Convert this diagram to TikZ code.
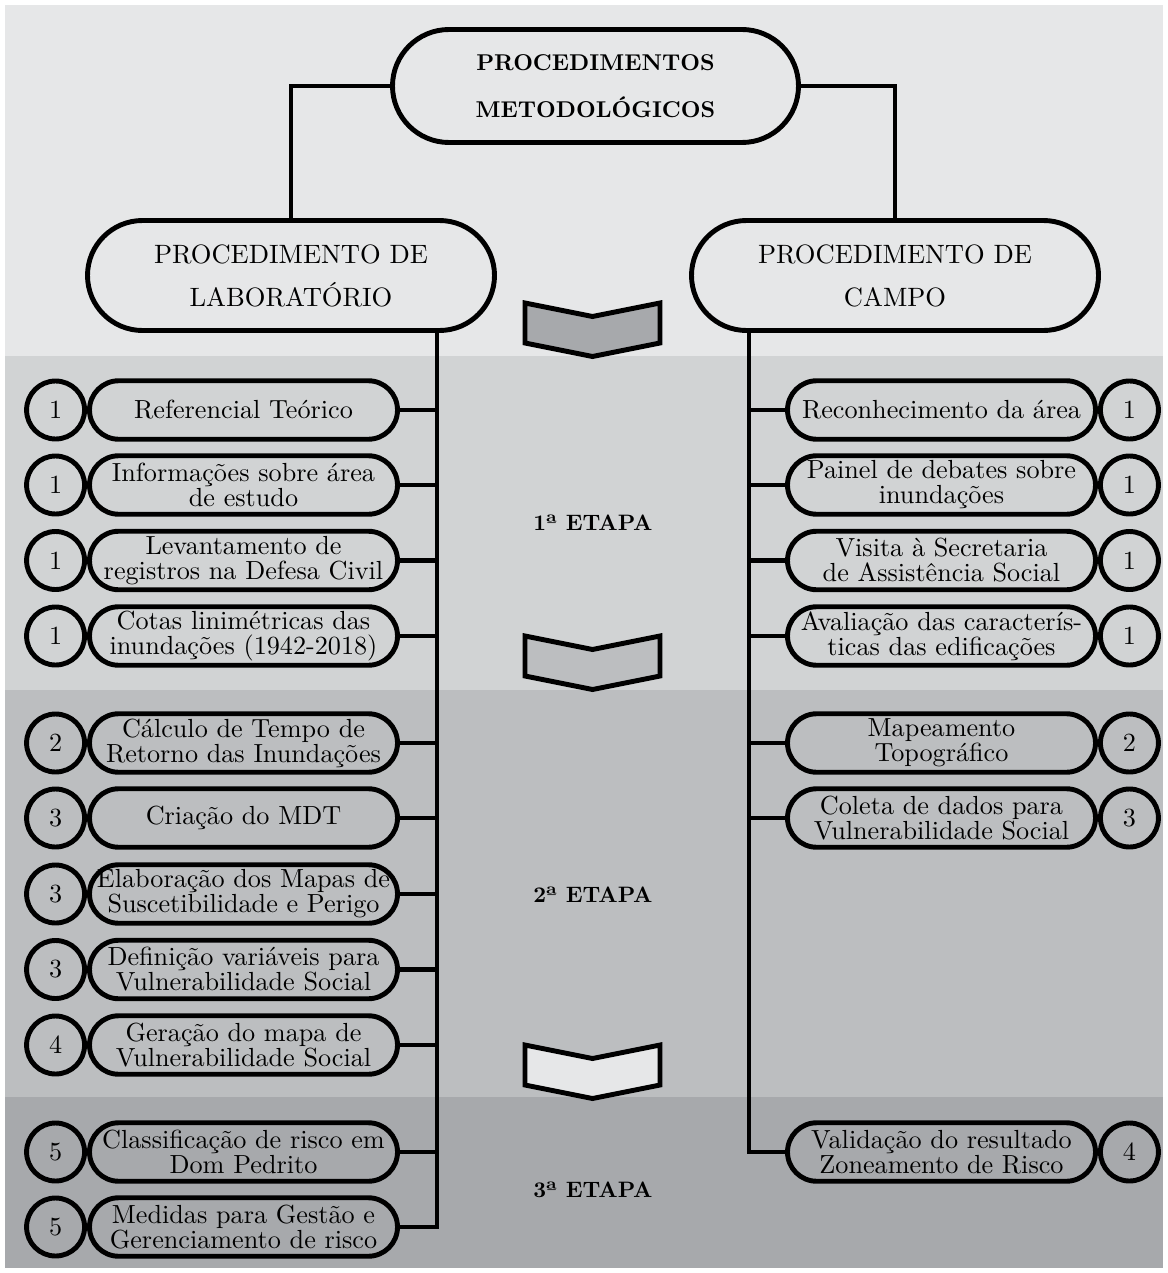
\documentclass[tikz,border=0pt]{standalone}
\usepackage{fontspec}
\setmainfont{lmroman10}[Extension=.otf, UprightFont=*-regular, BoldFont=*-bold]
\usepackage{tikz}
\usetikzlibrary{positioning}

\definecolor{etapaA}{HTML}{E6E7E8}
\definecolor{etapaB}{HTML}{D1D3D4}
\definecolor{etapaC}{HTML}{BCBEC0}
\definecolor{etapaD}{HTML}{A7A9AC}

\begin{document}
\begin{tikzpicture}[
    line width=2.8pt,
    titlebox/.style={draw, rectangle, rounded corners=1.13cm, minimum height=2.26cm, text width=8.12cm, inner xsep=0pt, align=center, font=\fontsize{13}{26.7}\selectfont\bfseries},
    procbox/.style={draw, rectangle, rounded corners=1.1cm, minimum height=2.2cm, text width=8.14cm, inner xsep=0pt, align=center, font=\fontsize{15.1}{24.5}\selectfont},
    stepbox/.style={draw, rectangle, rounded corners=0.585cm, minimum height=1.17cm, text width=6.16cm, inner xsep=0pt, inner ysep=0pt, align=center, font=\fontsize{14.9}{14.2}\selectfont},
    numcirc/.style={draw, circle, minimum size=1.16cm, inner sep=0pt, font=\fontsize{14.9}{14.2}\selectfont},
    etapa/.style={font=\fontsize{12.7}{15}\selectfont\bfseries},
    chevron/.style={draw, line width=2.8pt, line join=miter}
]
    \useasboundingbox (0,0) rectangle (23.36,-25.46);

    % Bands
    \fill[etapaA] (0.1,-0.1) rectangle (23.26,-7.12);
    \fill[etapaB] (0.1,-7.12) rectangle (23.26,-13.8);
    \fill[etapaC] (0.1,-13.8) rectangle (23.26,-21.94);
    \fill[etapaD] (0.1,-21.94) rectangle (23.26,-25.36);

    % Chevrons
    \draw[chevron, fill=etapaD, shift={(11.85,-6.06)}] (-1.35,0) -- (0,-0.27) -- (1.35,0) -- (1.35,-0.8) -- (0,-1.07) -- (-1.35,-0.8) -- cycle;
    \draw[chevron, fill=etapaC, shift={(11.85,-12.72)}] (-1.35,0) -- (0,-0.27) -- (1.35,0) -- (1.35,-0.8) -- (0,-1.07) -- (-1.35,-0.8) -- cycle;
    \draw[chevron, fill=etapaA, shift={(11.85,-20.9)}] (-1.35,0) -- (0,-0.27) -- (1.35,0) -- (1.35,-0.8) -- (0,-1.07) -- (-1.35,-0.8) -- cycle;

    % Heads
    \node[titlebox] (title) at (11.91,-1.72) {PROCEDIMENTOS\\METODOLÓGICOS};
    \node[procbox] (lab) at (5.82,-5.51) {PROCEDIMENTO DE\\LABORATÓRIO};
    \node[procbox] (campo) at (17.9,-5.51) {PROCEDIMENTO DE\\CAMPO};

    % Stages
    \node[etapa] (et1) at (11.86,-10.46) {1ª ETAPA};
    \node[etapa] (et2) at (11.86,-17.9) {2ª ETAPA};
    \node[etapa] (et3) at (11.86,-23.8) {3ª ETAPA};

    % Laboratory steps
    \node[stepbox] (ref) at (4.87,-8.2) {Referencial Teórico};
    \node[stepbox] (info) at (4.87,-9.7) {Informações sobre área\\de estudo};
    \node[stepbox] (defesa) at (4.87,-11.21) {Levantamento de\\registros na Defesa Civil};
    \node[stepbox] (cotas) at (4.87,-12.72) {Cotas linimétricas das\\inundações (1942-2018)};
    \node[stepbox] (tempo) at (4.87,-14.86) {Cálculo de Tempo de\\Retorno das Inundações};
    \node[stepbox] (mdt) at (4.87,-16.36) {Criação do MDT};
    \node[stepbox] (mapas) at (4.87,-17.88) {Elaboração dos Mapas de\\Suscetibilidade e Perigo};
    \node[stepbox] (varia) at (4.87,-19.39) {Definição variáveis para\\Vulnerabilidade Social};
    \node[stepbox] (geracao) at (4.87,-20.9) {Geração do mapa de\\Vulnerabilidade Social};
    \node[stepbox] (classif) at (4.87,-23.04) {Classificação de risco em\\Dom Pedrito};
    \node[stepbox] (gestao) at (4.87,-24.54) {Medidas para Gestão e\\Gerenciamento de risco};

    \node[numcirc, left=0pt of ref] (nref) {1};
    \node[numcirc, left=0pt of info] (ninfo) {1};
    \node[numcirc, left=0pt of defesa] (ndefesa) {1};
    \node[numcirc, left=0pt of cotas] (ncotas) {1};
    \node[numcirc, left=0pt of tempo] (ntempo) {2};
    \node[numcirc, left=0pt of mdt] (nmdt) {3};
    \node[numcirc, left=0pt of mapas] (nmapas) {3};
    \node[numcirc, left=0pt of varia] (nvaria) {3};
    \node[numcirc, left=0pt of geracao] (ngeracao) {4};
    \node[numcirc, left=0pt of classif] (nclassif) {5};
    \node[numcirc, left=0pt of gestao] (ngestao) {5};

    % Field steps
    \node[stepbox] (recon) at (18.83,-8.2) {Reconhecimento da área};
    \node[stepbox] (painel) at (18.83,-9.7) {Painel de debates sobre\\inundações};
    \node[stepbox] (visita) at (18.83,-11.21) {Visita à Secretaria\\de Assistência Social};
    \node[stepbox] (aval) at (18.83,-12.72) {Avaliação das caracterís-\\ticas das edificações};
    \node[stepbox] (topo) at (18.83,-14.86) {Mapeamento\\Topográfico};
    \node[stepbox] (coleta) at (18.83,-16.36) {Coleta de dados para\\Vulnerabilidade Social};
    \node[stepbox] (valid) at (18.83,-23.04) {Validação do resultado\\Zoneamento de Risco};

    \node[numcirc, right=0pt of recon] (nrecon) {1};
    \node[numcirc, right=0pt of painel] (npainel) {1};
    \node[numcirc, right=0pt of visita] (nvisita) {1};
    \node[numcirc, right=0pt of aval] (naval) {1};
    \node[numcirc, right=0pt of topo] (ntopo) {2};
    \node[numcirc, right=0pt of coleta] (ncoleta) {3};
    \node[numcirc, right=0pt of valid] (nvalid) {4};

    % Connections
    \coordinate (lt) at (8.74,0);
    \coordinate (rt) at (14.98,0);
    \draw (title.west) -| (lab.north);
    \draw (title.east) -| (campo.north);

    \draw (lab.south -| lt) |- (gestao.east);
    \draw (ref.east) -- (ref.east -| lt);
    \draw (info.east) -- (info.east -| lt);
    \draw (defesa.east) -- (defesa.east -| lt);
    \draw (cotas.east) -- (cotas.east -| lt);
    \draw (tempo.east) -- (tempo.east -| lt);
    \draw (mdt.east) -- (mdt.east -| lt);
    \draw (mapas.east) -- (mapas.east -| lt);
    \draw (varia.east) -- (varia.east -| lt);
    \draw (geracao.east) -- (geracao.east -| lt);
    \draw (classif.east) -- (classif.east -| lt);

    \draw (campo.south -| rt) |- (valid.west);
    \draw (recon.west) -- (recon.west -| rt);
    \draw (painel.west) -- (painel.west -| rt);
    \draw (visita.west) -- (visita.west -| rt);
    \draw (aval.west) -- (aval.west -| rt);
    \draw (topo.west) -- (topo.west -| rt);
    \draw (coleta.west) -- (coleta.west -| rt);
\end{tikzpicture}
\end{document}
